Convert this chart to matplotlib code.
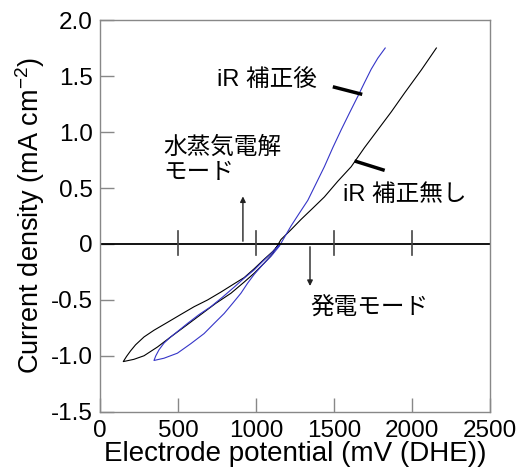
import matplotlib
matplotlib.use('Agg')
import matplotlib.pyplot as plt

plt.rcParams['font.family'] = ['Liberation Sans', 'Noto Sans CJK JP', 'DejaVu Sans']
plt.rcParams['mathtext.fontset'] = 'custom'
plt.rcParams['mathtext.rm'] = 'Liberation Sans'

# Without iR correction (black): top -> zero -> lower branch -> tip -> upper branch
raw_x = [2156, 2060, 1953, 1867, 1781, 1695, 1610, 1524, 1438, 1364, 1289, 1224, 1160,
         1107, 1053, 989, 924, 839, 742, 646, 550, 453, 368, 282, 217, 149,
         170, 196, 228, 282, 346, 432, 517, 603, 689, 774, 860, 924, 989, 1053, 1107, 1149]
raw_y = [1.75, 1.555, 1.35, 1.18, 1.02, 0.86, 0.69, 0.56, 0.42, 0.32, 0.22, 0.127, 0.04,
         -0.087, -0.17, -0.26, -0.34, -0.44, -0.53, -0.63, -0.73, -0.83, -0.92, -0.998, -1.03, -1.05,
         -1.004, -0.954, -0.90, -0.83, -0.77, -0.70, -0.63, -0.56, -0.50, -0.43, -0.355, -0.30, -0.22,
         -0.135, -0.067, 0.0]

# After iR correction (blue)
cor_x = [1828, 1781, 1738, 1695, 1653, 1599, 1546, 1492, 1438, 1385, 1332, 1278, 1224,
         1149, 1096, 1042, 989, 946, 903, 850, 796, 731, 667, 582, 496, 410, 346,
         357, 378, 410, 453, 507, 560, 635, 710, 785, 860, 924, 989, 1042, 1096, 1149]
cor_y = [1.75, 1.66, 1.56, 1.44, 1.32, 1.17, 1.02, 0.86, 0.69, 0.54, 0.39, 0.276, 0.16,
         -0.02, -0.11, -0.186, -0.27, -0.35, -0.44, -0.53, -0.62, -0.71, -0.80, -0.89, -0.975, -1.02, -1.04,
         -1.00, -0.945, -0.885, -0.83, -0.77, -0.71, -0.63, -0.56, -0.475, -0.385, -0.305, -0.23,
         -0.156, -0.087, -0.007]

x_ticks = [0, 500, 1000, 1500, 2000, 2500]
y_ticks = [2.0, 1.5, 1.0, 0.5, 0, -0.5, -1.0, -1.5]
y_tick_labels = ['2.0', '1.5', '1.0', '0.5', '0', '-0.5', '-1.0', '-1.5']
zero_ticks = [500, 1000, 1500, 2000]

fig = plt.figure(figsize=(5.25, 4.71), dpi=100)
ax = fig.add_axes([0.1905, 0.1253, 0.7429, 0.8322])

ax.plot(raw_x, raw_y, color='black', lw=0.8, solid_joinstyle='round')
ax.plot(cor_x, cor_y, color='#3535c8', lw=0.8, solid_joinstyle='round')

# zero line with its own ticks
ax.axhline(0, color='black', lw=1.3)
for xt in zero_ticks:
    ax.plot([xt, xt], [-0.1, 0.12], color='#444444', lw=1.2)

# mode arrows
ax.annotate('', xy=(916, 0.45), xytext=(916, 0),
            arrowprops=dict(arrowstyle='-|>', color='#222222', lw=1, mutation_scale=8))
ax.annotate('', xy=(1346, -0.40), xytext=(1346, 0),
            arrowprops=dict(arrowstyle='-|>', color='#222222', lw=1, mutation_scale=8))

fs = 17
ax.text(405, 0.96, '水蒸気電解\nモード', fontsize=fs, va='top', ha='left', linespacing=1.2)
ax.text(1350, -0.58, '発電モード', fontsize=fs, va='center', ha='left')
ax.text(750, 1.46, 'iR 補正後', fontsize=fs, va='center', ha='left')
ax.text(1555, 0.44, 'iR 補正無し', fontsize=fs, va='center', ha='left')

# leader lines
ax.plot([1503, 1670], [1.40, 1.34], color='black', lw=2.5)
ax.plot([1642, 1814], [0.737, 0.662], color='black', lw=2.5)

ax.set_xlim(0, 2500)
ax.set_ylim(-1.5, 2.0)
ax.set_xticks(x_ticks)
ax.set_yticks(y_ticks)
ax.set_yticklabels(y_tick_labels)
ax.tick_params(direction='in', length=10, width=1, color='#888888', labelsize=17.5)
ax.tick_params(axis='y', pad=5)
ax.tick_params(axis='x', pad=6)
for s in ax.spines.values():
    s.set_color('#888888')
    s.set_linewidth(1)

ax.set_xlabel('Electrode potential (mV (DHE))', fontsize=20, labelpad=-1)
ax.set_ylabel(r'Current density (mA cm$^{\mathregular{-2}}$)', fontsize=19.5, labelpad=3)

fig.savefig('out.png', dpi=100)
